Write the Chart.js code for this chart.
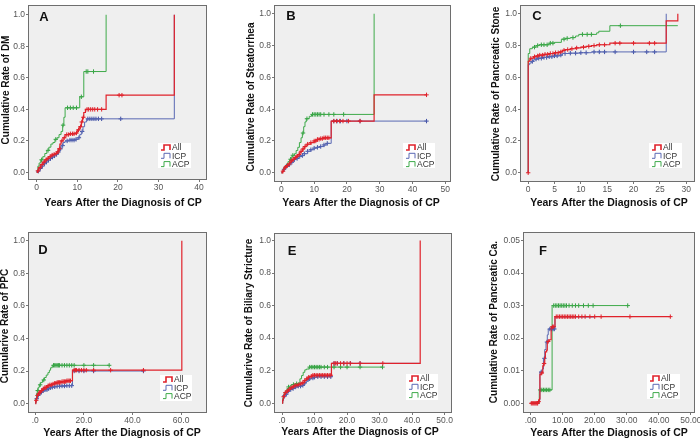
<!DOCTYPE html>
<html><head><meta charset="utf-8">
<script src="https://cdn.jsdelivr.net/npm/chart.js@4.4.1/dist/chart.umd.min.js"></script>
<style>
html,body{margin:0;padding:0;background:#fff;}
#wrap{position:relative;width:700px;height:440px;overflow:hidden;background:#fff;}
canvas{position:absolute;}
</style></head><body><div id="wrap"></div>
<script>
// ---------- DATA ----------
const groupNames = ['All', 'ICP', 'ACP'];

// A: Cumulative rate of DM
const dmAllT = [0,0.2,0.5,1,1.5,2,2.5,3,3.5,4,4.5,5,5.3,5.7,6,6.5,7,8,9.5,10,10.5,11,11.3,11.6,12,17.1,33.9];
const dmAllV = [0,0.01,0.03,0.05,0.065,0.08,0.09,0.1,0.11,0.115,0.12,0.13,0.15,0.18,0.2,0.22,0.24,0.245,0.25,0.27,0.29,0.32,0.35,0.38,0.40,0.49,1.0];
const dmAllCens = [0.3,0.8,1.3,1.8,2.3,2.8,3.3,3.8,4.3,4.8,5.2,5.6,6.2,6.8,7.4,7.8,8.3,8.8,9.2,9.8,10.3,10.8,11.1,11.5,12.4,12.8,13.3,13.8,14.3,15,16,20.3,21];
const dmIcpT = [0,0.2,0.5,1,1.5,2,2.5,3,3.5,4,4.5,5,5.5,6,6.5,7,8,9.5,10.2,10.6,11,11.4,11.8,12.3,33.9];
const dmIcpV = [0,0.008,0.025,0.04,0.055,0.066,0.078,0.088,0.097,0.105,0.115,0.13,0.15,0.17,0.19,0.2,0.205,0.21,0.22,0.24,0.26,0.29,0.32,0.34,1.0];
const dmIcpCens = [0.4,0.9,1.4,1.9,2.4,2.9,3.4,3.9,4.4,4.9,5.4,5.9,6.4,7.5,8.2,8.7,9.2,9.7,10.4,11.2,12.6,13.1,13.6,14.1,14.6,15.2,16,20.7];
const dmAcpT = [0,0.3,0.6,1,1.5,2,2.5,3,3.5,4,4.5,5,5.5,6,6.4,6.7,7,10.6,11.6,17.1];
const dmAcpV = [0,0.04,0.06,0.08,0.1,0.12,0.14,0.16,0.18,0.19,0.21,0.22,0.24,0.26,0.3,0.35,0.41,0.48,0.64,1.0];
const dmAcpCens = [1.2,2.8,4.7,6.5,7.6,8.3,9,9.8,11,12.2,12.6,14];

// B: Cumulative rate of steatorrhea
const stAllT = [0,0.3,0.7,1,1.5,2,2.5,3,3.5,4,4.5,5,5.5,6,6.5,7,7.5,8,9,10,11,12,13,15.2,28.3,44.3];
const stAllV = [0,0.01,0.025,0.035,0.045,0.055,0.065,0.075,0.085,0.095,0.105,0.115,0.125,0.135,0.15,0.165,0.175,0.18,0.19,0.2,0.21,0.215,0.22,0.325,0.49,0.49];
const stAllCens = [0.5,1.2,1.8,2.4,3,3.6,4.2,4.8,5.4,6,6.6,7.2,8,9,10,10.5,11,11.5,12,12.5,13,13.5,14,14.5,16,16.8,17.8,18.8,20.5,24,44.3];
const stIcpT = [0,0.3,0.7,1,1.5,2,2.5,3,3.5,4,4.5,5,5.5,6,7,8,9,10,11,12,13,14,15.2,44.3];
const stIcpV = [0,0.01,0.022,0.03,0.04,0.05,0.058,0.066,0.075,0.083,0.09,0.098,0.103,0.108,0.12,0.135,0.145,0.155,0.16,0.165,0.175,0.185,0.325,0.325];
const stIcpCens = [0.8,1.6,2.4,3.2,4,4.8,5.6,6.4,7,8,9,10,11,12,13,14,16,17,18,20,24,44.3];
const stAcpT = [0,0.3,0.7,1,1.5,2,2.5,3,3.5,4,4.5,5,5.5,6,6.4,6.8,7.2,7.6,8.5,9.2,28.3];
const stAcpV = [0,0.01,0.03,0.04,0.055,0.07,0.085,0.1,0.11,0.12,0.14,0.16,0.19,0.22,0.25,0.29,0.32,0.34,0.355,0.367,1.0];
const stAcpCens = [2.8,3.5,6.6,7.8,9.5,10,10.5,11,11.5,12,13,14.5,16,19];

// C: Cumulative rate of pancreatic stone
const psAllT = [0,0.01,0.2,0.5,1,1.5,2,3,4,5,6,6.5,7,8,9,10,11,12,13,15.5,26.2,28.4];
const psAllV = [0,0.70,0.71,0.72,0.73,0.735,0.74,0.745,0.75,0.755,0.76,0.77,0.775,0.78,0.785,0.79,0.795,0.80,0.805,0.815,0.955,1.0];
const psAllCens = [0,0.5,1.2,1.8,2.2,2.7,3.2,3.7,4.2,4.7,5.2,5.7,6.2,6.8,7.5,8.3,9.2,10.5,11.5,12.5,13.5,14.5,16.5,17.4,20,23,24];
const psIcpT = [0,0.01,0.3,0.6,1,1.5,2,3,4,5,6,6.5,8,10,12,26.2];
const psIcpV = [0,0.68,0.69,0.70,0.71,0.715,0.72,0.725,0.73,0.735,0.74,0.75,0.752,0.755,0.76,1.0];
const psIcpCens = [0.8,1.5,2,2.5,3,3.5,4,4.5,5,5.5,6.2,7,8,9,10,11,12.5,13.5,14.5,16.5,20,22.5,24];
const psAcpT = [0,0.01,0.3,0.8,1.5,2,4,5,6.3,7,8,9,9.6,13,13.4,15.5,28.4];
const psAcpV = [0,0.75,0.78,0.79,0.80,0.805,0.815,0.82,0.84,0.845,0.85,0.86,0.87,0.88,0.89,0.925,0.925];
const psAcpCens = [1.2,1.8,2.5,3,3.6,4.2,4.7,6.8,7.4,8.5,10.3,11.2,12,17.5];

// D: Cumulative rate of PPC
const ppAllT = [0,0.2,0.5,0.8,1.2,1.7,2.3,3,4,5,6,7,8,9,11,13,15.3,60.3];
const ppAllV = [0,0.02,0.035,0.05,0.06,0.07,0.08,0.09,0.1,0.11,0.115,0.12,0.125,0.13,0.135,0.14,0.205,1.0];
const ppAllCens = [0.4,0.9,1.4,2,2.6,3.3,4,4.6,5.3,6,6.6,7.3,8,8.5,9,9.5,10,10.5,11,11.5,12,12.5,13,13.5,14,14.5,16,16.5,17,18,19,20,21,24,31,44.5];
const ppIcpT = [0,0.2,0.5,0.8,1.2,1.7,2.3,3,4,5,6,7,8,9,11,13,15.3,44.5];
const ppIcpV = [0,0.015,0.03,0.04,0.05,0.06,0.07,0.078,0.085,0.092,0.097,0.1,0.103,0.106,0.108,0.11,0.2,0.2];
const ppIcpCens = [0.6,1.2,1.8,2.5,3.2,4,4.8,5.5,6.2,7,8,9,10,11,12,13,14,15,16,18,20,24,44.5];
const ppAcpT = [0,0.2,0.5,0.8,1.2,1.7,2.2,3,3.8,4.5,5.2,5.8,6.3,7,30.4];
const ppAcpV = [0,0.03,0.06,0.08,0.1,0.115,0.13,0.145,0.16,0.175,0.19,0.205,0.22,0.235,0.235];
const ppAcpCens = [1,2,3.5,7.5,8,8.5,9,9.5,10,11,12,13,14,15,16,20,24,30.4];

// E: Cumulative rate of biliary stricture
const bsAllT = [0,0.2,0.4,0.7,1,1.5,2,2.5,3,3.5,4,5,5.5,6,6.5,7,7.5,8,8.5,9.2,15.2,42.5];
const bsAllV = [0,0.02,0.04,0.055,0.065,0.075,0.085,0.095,0.1,0.105,0.11,0.115,0.12,0.125,0.13,0.14,0.15,0.16,0.165,0.172,0.245,1.0];
const bsAllCens = [0.5,1,1.6,2.2,2.8,3.4,4,4.6,5.2,5.8,6.4,7,7.6,8.2,9,9.5,10,10.5,11,11.5,12,12.5,13,13.5,14,14.5,15,16,16.5,17,18,19,20,21,24,31];
const bsIcpT = [0,0.2,0.4,0.7,1,1.5,2,2.5,3,3.5,4,5,6,6.5,7,7.5,8,8.5,9,10,11,15.2,42.5];
const bsIcpV = [0,0.015,0.03,0.045,0.055,0.065,0.075,0.085,0.09,0.095,0.1,0.105,0.11,0.115,0.125,0.135,0.145,0.15,0.155,0.16,0.163,0.245,0.245];
const bsIcpCens = [0.7,1.3,2,2.7,3.4,4.2,5,5.7,6.4,7,8,8.5,9.5,10,11,12,13,14,15,16,17,19,21,24];
const bsAcpT = [0,0.2,0.4,0.7,1,1.5,2,2.5,3,4,5,5.5,6,6.5,7,7.5,8.3,30.9];
const bsAcpV = [0,0.03,0.05,0.065,0.075,0.09,0.1,0.11,0.115,0.12,0.125,0.15,0.17,0.19,0.205,0.21,0.222,0.222];
const bsAcpCens = [2,3.5,4.5,8.5,9,9.5,10,10.5,11,11.5,12,13,14,16,18,20,24,30.9];

// F: Cumulative rate of pancreatic cancer
const pcAllT = [0,2.4,2.6,2.8,2.9,3.3,3.8,4.1,4.4,4.6,5,5.2,5.8,6.4,7.6,43.6];
const pcAllV = [0,0.0005,0.001,0.0015,0.0088,0.0093,0.0115,0.0122,0.014,0.0158,0.0163,0.019,0.0195,0.0235,0.0266,0.0266];
const pcAllCens = [0.2,0.5,0.8,1.1,1.4,1.7,2,2.2,2.5,3.5,4.2,5.5,6.8,7.2,8,8.5,9,9.5,10,10.5,11,11.5,12,12.5,13,13.5,14,15,16,17,18.5,20,22,31,43.6];
const pcIcpT = [0,2.6,2.9,3.6,4,4.4,4.8,5.2,5.5,7.6,20];
const pcIcpV = [0,0.001,0.0096,0.0105,0.0138,0.0165,0.0188,0.021,0.0228,0.0265,0.0265];
const pcIcpCens = [3.3,4.3,5.1,6,6.5,7,7.4];
const pcAcpT = [0,2.7,6.7,30.3];
const pcAcpV = [0,0.0041,0.030,0.030];
const pcAcpCens = [3,3.5,4,4.5,5,5.5,6,7.2,7.7,8.2,8.7,9.2,9.7,10.2,10.7,11.2,12,13,14,15,16.5,18,19.5,30.3];

// tick values and labels
const yTicksRate = [0,0.2,0.4,0.6,0.8,1.0];
const yLabelsRate = ['0.0','0.2','0.4','0.6','0.8','1.0'];
const yTicksCa = [0,0.01,0.02,0.03,0.04,0.05];
const yLabelsCa = ['0.00','0.01','0.02','0.03','0.04','0.05'];
const xTicksA = [0,10,20,30,40];       const xLabelsA = ['0','10','20','30','40'];
const xTicksB = [0,10,20,30,40,50];    const xLabelsB = ['0','10','20','30','40','50'];
const xTicksC = [0,5,10,15,20,25,30];  const xLabelsC = ['0','5','10','15','20','25','30'];
const xTicksD = [0,20,40,60];          const xLabelsD = ['.0','20.0','40.0','60.0'];
const xTicksE = [0,10,20,30,40,50];    const xLabelsE = ['.0','10.0','20.0','30.0','40.0','50.0'];
const xTicksF = [0,10,20,30,40,50];    const xLabelsF = ['.00','10.00','20.00','30.00','40.00','50.00'];

// ---------- STYLE / LAYOUT ----------
const COLORS = {line:['#E0222B','#5A69B4','#3EAA4A'], mark:['#E0222B','#3F4FA5','#33A041']};
const FONT = '"Liberation Sans", Arial, sans-serif';
const XTITLE = 'Years After the Diagnosis of CP';

const panels = [
 {letter:'A', box:[0,0,232,216], area:[28,1,207,180], x:[-2.14,41.95], y:[-0.048,1.062],
  xt:xTicksA, xl:xLabelsA, yt:yTicksRate, yl:yLabelsRate, yTitle:'Cumulative Rate of DM',
  xTitle:[123,203], yTitleP:[6,90], letterP:[44,17], legend:[158,143,33,25],
  s:[[dmAllT,dmAllV,dmAllCens],[dmIcpT,dmIcpV,dmIcpCens],[dmAcpT,dmAcpV,dmAcpCens]]},
 {letter:'B', box:[232,0,232,216], area:[274,1,451,182], x:[-2.26,51.77], y:[-0.058,1.055],
  xt:xTicksB, xl:xLabelsB, yt:yTicksRate, yl:yLabelsRate, yTitle:'Cumulative Rate of Steatorrhea',
  xTitle:[361,203], yTitleP:[251,97], letterP:[291,16], legend:[403,143,32,25],
  s:[[stAllT,stAllV,stAllCens],[stIcpT,stIcpV,stIcpCens],[stAcpT,stAcpV,stAcpCens]]},
 {letter:'C', box:[464,0,236,216], area:[520,1,698,182], x:[-1.55,31.66], y:[-0.058,1.055],
  xt:xTicksC, xl:xLabelsC, yt:yTicksRate, yl:yLabelsRate, yTitle:'Cumulative Rate of Pancreatic Stone',
  xTitle:[609,203], yTitleP:[496,94], letterP:[537,16], legend:[649,143,33,25],
  s:[[psAllT,psAllV,psAllCens],[psIcpT,psIcpV,psIcpCens],[psAcpT,psAcpV,psAcpCens]]},
 {letter:'D', box:[0,216,232,224], area:[28,232,207,413], x:[-3.0,70.66], y:[-0.058,1.054],
  xt:xTicksD, xl:xLabelsD, yt:yTicksRate, yl:yLabelsRate, yTitle:'Cumularive Rate of PPC',
  xTitle:[122,433], yTitleP:[5,326], letterP:[43,250], legend:[160,375,32,26],
  s:[[ppAllT,ppAllV,ppAllCens],[ppIcpT,ppIcpV,ppIcpCens],[ppAcpT,ppAcpV,ppAcpCens]]},
 {letter:'E', box:[232,216,232,224], area:[274,233,452,413], x:[-2.47,52.28], y:[-0.06,1.046],
  xt:xTicksE, xl:xLabelsE, yt:yTicksRate, yl:yLabelsRate, yTitle:'Cumularive Rate of Biliary Stricture',
  xTitle:[360,432], yTitleP:[249,323], letterP:[292,251], legend:[406,374,32,26],
  s:[[bsAllT,bsAllV,bsAllCens],[bsIcpT,bsIcpV,bsIcpCens],[bsAcpT,bsAcpV,bsAcpCens]]},
 {letter:'F', box:[464,216,236,224], area:[523,232,697,413], x:[-2.38,51.3], y:[-0.00299,0.05259],
  xt:xTicksF, xl:xLabelsF, yt:yTicksCa, yl:yLabelsCa, yTitle:'Cumulative Rate of Pancreatic Ca.',
  xTitle:[609,433], yTitleP:[494,322], letterP:[543,251], legend:[647,374,33,25],
  s:[[pcAllT,pcAllV,pcAllCens],[pcIcpT,pcIcpV,pcIcpCens],[pcAcpT,pcAcpV,pcAcpCens]]}
];

function valueAt(T, V, t){ let v = V[0]; for (let i=0;i<T.length;i++){ if (T[i] <= t) v = V[i]; } return v; }

function makeDecor(p){
  return {
    id:'decor',
    beforeDatasetsDraw(chart){
      const a = chart.chartArea, ctx = chart.ctx;
      ctx.save(); ctx.fillStyle = '#EFEFEF';
      ctx.fillRect(a.left, a.top, a.right-a.left, a.bottom-a.top); ctx.restore();
    },
    afterDraw(chart){
      const a = chart.chartArea, ctx = chart.ctx;
      const ox = p.box[0], oy = p.box[1];
      ctx.save();
      ctx.strokeStyle = '#6E6E6E'; ctx.lineWidth = 1;
      ctx.strokeRect(a.left+0.5, a.top+0.5, a.right-a.left-1, a.bottom-a.top-1);
      ctx.fillStyle = '#111'; ctx.font = 'bold 13px ' + FONT;
      ctx.textAlign = 'center'; ctx.textBaseline = 'middle';
      ctx.fillText(p.letter, p.letterP[0]-ox, p.letterP[1]-oy);
      const [lx,ly,lw,lh] = p.legend;
      ctx.fillStyle = '#FFFFFF'; ctx.fillRect(lx-ox, ly-oy, lw, lh);
      ctx.font = '8.5px ' + FONT; ctx.textAlign = 'left';
      for (let i=0;i<3;i++){
        const x = lx-ox+3, y = ly-oy+4.5+i*8.3;
        ctx.strokeStyle = COLORS.line[i]; ctx.lineWidth = i===0 ? 1.6 : 1;
        ctx.beginPath(); ctx.moveTo(x, y+2.5); ctx.lineTo(x+3, y+2.5); ctx.lineTo(x+3, y-2.5);
        ctx.lineTo(x+9, y-2.5); ctx.lineTo(x+9, y+2.5); ctx.stroke();
        ctx.fillStyle = '#333'; ctx.fillText(groupNames[i], x+11, y+0.5);
      }
      ctx.fillStyle = '#111'; ctx.textAlign = 'center';
      ctx.font = 'bold 10.5px ' + FONT;
      ctx.fillText(XTITLE, p.xTitle[0]-ox, p.xTitle[1]-oy);
      ctx.font = 'bold 10px ' + FONT;
      ctx.translate(p.yTitleP[0]-ox, p.yTitleP[1]-oy); ctx.rotate(-Math.PI/2);
      ctx.fillText(p.yTitle, 0, 0);
      ctx.restore();
    }
  };
}

const wrap = document.getElementById('wrap');
panels.forEach(p => {
  const [bx,by,bw,bh] = p.box, [l,t,r,b] = p.area;
  const cv = document.createElement('canvas');
  cv.width = bw; cv.height = bh; cv.style.left = bx+'px'; cv.style.top = by+'px';
  cv.style.width = bw+'px'; cv.style.height = bh+'px';
  wrap.appendChild(cv);
  const datasets = [];
  p.s.forEach((ser, i) => {
    const [T,V,C] = ser;
    datasets.push({label:groupNames[i], data:T.map((tt,k)=>({x:tt,y:V[k]})), stepped:'before',
      borderColor:COLORS.line[i], borderWidth:i===0?1.2:1, pointRadius:0, fill:false, order:i*2});
    datasets.push({label:groupNames[i]+' censored', data:C.map(tt=>({x:tt,y:valueAt(T,V,tt)})), showLine:false,
      pointStyle:'cross', pointRadius:2.2, pointBorderWidth:1, pointBorderColor:COLORS.mark[i],
      pointBackgroundColor:COLORS.mark[i], order:i*2+1});
  });
  const tickFont = {family:FONT, size:8.5};
  new Chart(cv, {
    type:'line',
    data:{datasets},
    options:{
      responsive:false, animation:false, devicePixelRatio:1, events:[],
      layout:{padding:{left:0, top:t-by, right:bx+bw-r, bottom:0}},
      plugins:{legend:{display:false}, tooltip:{enabled:false}},
      scales:{
        x:{type:'linear', min:p.x[0], max:p.x[1],
           afterBuildTicks:s=>{ s.ticks = p.xt.map(v=>({value:v})); },
           ticks:{callback:(v)=>p.xl[p.xt.indexOf(v)], font:tickFont, color:'#555', padding:1, maxRotation:0, autoSkip:false},
           grid:{display:true, drawOnChartArea:false, drawTicks:true, tickLength:2, color:'#777'},
           border:{display:false},
           afterFit:s=>{ s.height = by+bh-b; s.paddingLeft=0; s.paddingRight=0; }},
        y:{type:'linear', min:p.y[0], max:p.y[1],
           afterBuildTicks:s=>{ s.ticks = p.yt.map(v=>({value:v})); },
           ticks:{callback:(v)=>p.yl[p.yt.indexOf(v)], font:tickFont, color:'#555', padding:1, autoSkip:false},
           grid:{display:true, drawOnChartArea:false, drawTicks:true, tickLength:2, color:'#777'},
           border:{display:false},
           afterFit:s=>{ s.width = l-bx; s.paddingTop=0; s.paddingBottom=0; }}
      }
    },
    plugins:[makeDecor(p)]
  });
});
</script>
</body></html>
